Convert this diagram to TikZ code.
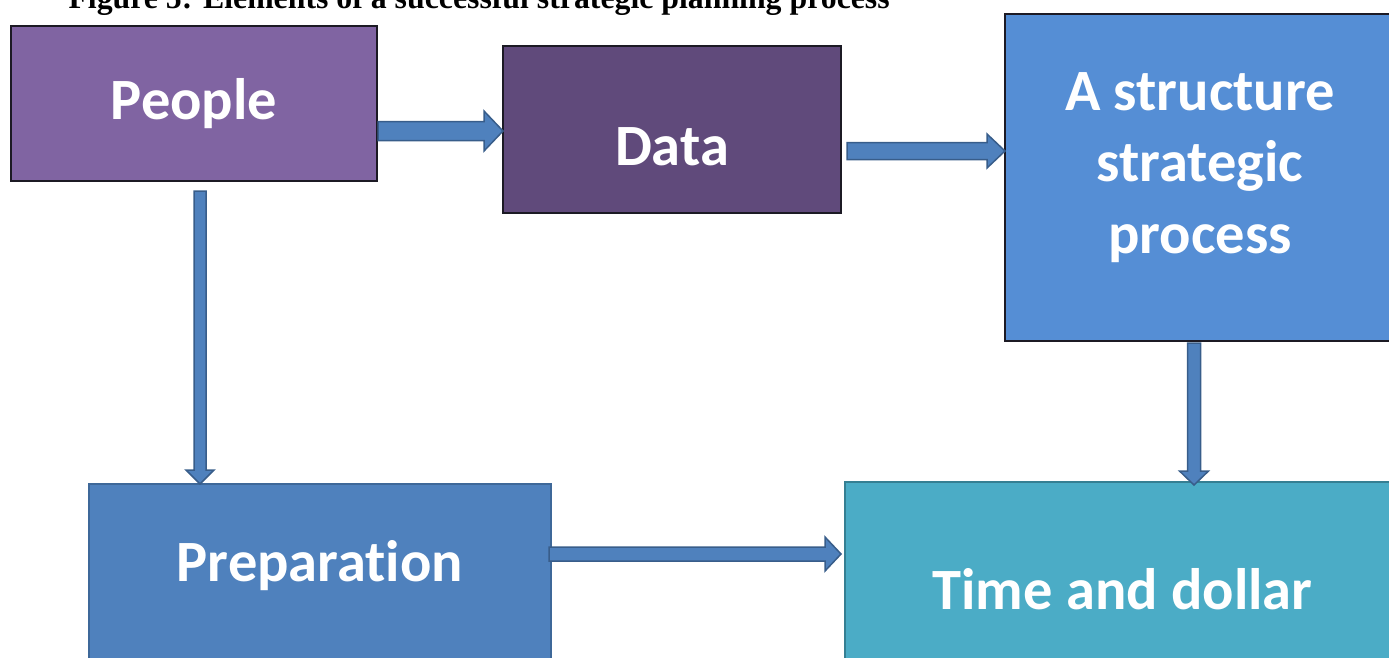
\documentclass[tikz,border=0pt]{standalone}
\usepackage{fontspec}
\setmainfont[Ligatures=NoCommon]{Carlito}
\newfontfamily\captionfont{Liberation Serif}
\usetikzlibrary{calc}

\definecolor{peoplefill}{HTML}{8064A2}
\definecolor{datafill}{HTML}{604A7B}
\definecolor{structfill}{HTML}{558ED5}
\definecolor{prepfill}{HTML}{4F81BD}
\definecolor{prepline}{HTML}{3E6899}
\definecolor{timefill}{HTML}{4BACC6}
\definecolor{timeline}{HTML}{357F93}
\definecolor{arrowfill}{HTML}{4F81BD}
\definecolor{arrowline}{HTML}{385D8A}
\definecolor{darkedge}{HTML}{1C1A24}

% horizontal block arrow: start, tip, shaft half width, head half width, head length
\newcommand\hblock[5]{%
  \draw[blockarrow] let \p1=(#1), \p2=(#2) in
    (\x1,\y1+#3) -- (\x2-#5,\y1+#3) -- (\x2-#5,\y1+#4) -- (\x2,\y1)
    -- (\x2-#5,\y1-#4) -- (\x2-#5,\y1-#3) -- (\x1,\y1-#3) -- cycle;}
% vertical (downward) block arrow: start, tip, shaft half width, head half width, head length
\newcommand\vblock[5]{%
  \draw[blockarrow] let \p1=(#1), \p2=(#2) in
    (\x1-#3,\y1) -- (\x1-#3,\y2+#5) -- (\x1-#4,\y2+#5) -- (\x1,\y2)
    -- (\x1+#4,\y2+#5) -- (\x1+#3,\y2+#5) -- (\x1+#3,\y1) -- cycle;}

\begin{document}
\begin{tikzpicture}[x=1pt,y=-1pt,
  box/.style={rectangle, inner sep=0pt, outer sep=0pt},
  topbox/.style={box, draw=darkedge, line width=1.5pt},
  boxtext/.style={text=white, font=\fontsize{58.5}{71.5}\selectfont\bfseries, align=center},
  blockarrow/.style={fill=arrowfill, draw=arrowline, line width=1.5pt, line join=miter}]
\useasboundingbox (0,0) rectangle (1389,657);

\node[anchor=base west, font=\captionfont\fontsize{31.8}{34}\selectfont\bfseries]
  (caption) at (65,8) {Figure 5: Elements of a successful strategic planning process};

\node[topbox, fill=peoplefill, minimum width=366pt, minimum height=155pt,
  label={[boxtext]center:People}] (people) at (194,103.5) {};
\node[topbox, fill=datafill, minimum width=338pt, minimum height=167pt,
  label={[boxtext, yshift=-17pt]center:Data}] (data) at (672,129.5) {};
\node[topbox, fill=structfill, minimum width=390pt, minimum height=327pt,
  label={[boxtext, yshift=10pt]center:A structure\\strategic\\process}] (structure) at (1200,177.5) {};
\node[box, fill=prepfill, draw=prepline, line width=2pt, minimum width=462pt, minimum height=216pt,
  label={[boxtext, yshift=26pt]center:Preparation}] (prep) at (320,592) {};
\node[box, fill=timefill, draw=timeline, line width=2pt, minimum width=555pt, minimum height=218pt,
  label={[boxtext, yshift=1.5pt]center:Time and dollar}] (time) at (1122.5,591) {};

\coordinate (pd-s) at ($(people.east)+(1,27.5)$);
\coordinate (pd-e) at (data.west |- pd-s);
\coordinate (ds-s) at ($(data.east)+(6,21.5)$);
\coordinate (ds-e) at (structure.west |- ds-s);
\coordinate (pp-s) at ($(people.south)+(6,10)$);
\coordinate (pp-e) at (pp-s |- prep.north);
\coordinate (st-s) at ($(structure.south)+(-6,2)$);
\coordinate (st-e) at ($(st-s |- time.north)+(0,3)$);
\coordinate (pt-s) at ($(prep.east)+(-2,-38)$);
\coordinate (pt-e) at ($(time.west |- pt-s)+(-4,0)$);

\hblock{pd-s}{pd-e}{9.5pt}{20pt}{19pt}
\hblock{ds-s}{ds-e}{8.5pt}{17pt}{18pt}
\vblock{pp-s}{pp-e}{6pt}{14pt}{14pt}
\vblock{st-s}{st-e}{6.5pt}{14.5pt}{14pt}
\hblock{pt-s}{pt-e}{7pt}{17pt}{16pt}
\end{tikzpicture}
\end{document}
